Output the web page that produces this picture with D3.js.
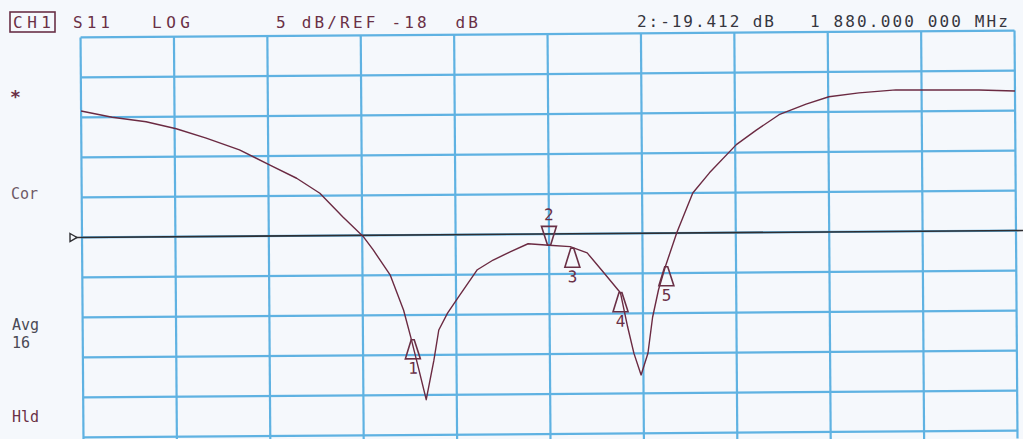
<!DOCTYPE html>
<html>
<head>
<meta charset="utf-8">
<script src="https://cdn.jsdelivr.net/npm/d3@7.9.0/dist/d3.min.js"></script>
<style>
  html, body { margin: 0; padding: 0; background: #f5f8fc; }
  svg { display: block; }
</style>
</head>
<body>
<svg id="chart" width="1023" height="439"></svg>
<script>
// S11 sweep, 5 dB/div, ref -18 dB
const freqMHz = [1680, 1693.3, 1707.8, 1720.7, 1733.5, 1747.7, 1760.5, 1772.1, 1782, 1791.8,
  1800.3, 1804.6, 1811.9, 1817.5, 1820.5, 1823.9, 1826.9, 1830.3, 1832.5, 1836.3,
  1841, 1849.2, 1856, 1863.3, 1871, 1880, 1889, 1896.3, 1903.1, 1910.4,
  1913.4, 1916, 1919, 1922, 1924.1, 1926.7, 1929.7, 1934.8, 1941.7, 1948.9,
  1960.5, 1969.1, 1978.9, 1990.5, 2000.3, 2013.2, 2029, 2064.6, 2080];
const s11dB = [-2.2, -3.0, -3.6, -4.5, -5.7, -7.2, -9.1, -10.8, -12.7, -15.7,
  -18.1, -19.8, -23.0, -27.4, -30.8, -34.9, -38.6, -33.7, -29.9, -27.8,
  -25.8, -22.4, -21.2, -20.2, -19.2, -19.41, -19.6, -20.4, -22.8, -25.4,
  -29.7, -33.0, -35.7, -33.0, -28.5, -25.1, -22.2, -17.9, -13.0, -10.5,
  -7.0, -5.2, -3.3, -2.0, -1.1, -0.65, -0.3, -0.4, -0.55];

const markerNum  = ["1", "2", "3", "4", "5"];
const markerFreq = [1821.3, 1880, 1889.9, 1910.4, 1930.1];
const markerDb   = [-31.1, -19.412, -19.8, -25.4, -22.2];
const markerUp   = [true, false, true, true, true];

const refDb = -18;
const dbPerDiv = 5;
const startMHz = 1680, stopMHz = 2080;

const headerLeft  = ["CH1", "S11", "LOG", "5 dB/REF -18  dB"];
const headerRight = ["2:-19.412 dB", "1 880.000 000 MHz"];
const sideLabels  = ["*", "Cor", "Avg", "16", "Hld"];

const ink = "#6a3046";
const gridColor = "#5fb2e2";
const mono = "'DejaVu Sans Mono', 'Liberation Mono', monospace";

const svg = d3.select("#chart");
const plotLeft = 82, plotRight = 1016, plotTop = 34, plotBottom = 434;

const x = d3.scaleLinear().domain([startMHz, stopMHz]).range([plotLeft, plotRight]);
const y = d3.scaleLinear()
  .domain([refDb - 5 * dbPerDiv, refDb + 5 * dbPerDiv])
  .range([plotBottom, plotTop]);

// header
const hdr = svg.append("g").attr("font-family", mono).attr("font-size", 16).attr("fill", ink);
const leftPos = [[13, 38], [73, 37], [152, 38], [276, 202]];
headerLeft.forEach((t, i) => {
  hdr.append("text")
    .attr("x", leftPos[i][0]).attr("y", 28)
    .attr("textLength", leftPos[i][1]).attr("lengthAdjust", "spacing")
    .attr("xml:space", "preserve")
    .text(t);
});
hdr.append("rect").attr("x", 10).attr("y", 12).attr("width", 45).attr("height", 20)
  .attr("fill", "none").attr("stroke", ink).attr("stroke-width", 1.6);
const rightPos = [[637, 137], [810, 198]];
headerRight.forEach((t, i) => {
  hdr.append("text")
    .attr("x", rightPos[i][0]).attr("y", 27)
    .attr("textLength", rightPos[i][1]).attr("lengthAdjust", "spacing")
    .attr("fill", "#36363f")
    .text(t);
});

// side annotations
const sidePos = [[10, 103, 18], [11, 199, 15], [12, 330, 15], [12, 348, 15], [12, 422, 15]];
const sideFill = [ink, "#6e5a66", "#4a4a55", "#4a4a55", ink];
sideLabels.forEach((t, i) => {
  svg.append("text")
    .attr("x", sidePos[i][0]).attr("y", sidePos[i][1])
    .attr("font-family", mono).attr("font-size", sidePos[i][2])
    .attr("font-weight", i === 0 ? "bold" : "normal")
    .attr("fill", sideFill[i])
    .text(t);
});

// plot area, slightly rotated like the scanned print
const g = svg.append("g").attr("transform", `rotate(-0.42, ${x(1880)}, ${y(refDb)})`);

const xTicks = d3.range(startMHz, stopMHz + 1, (stopMHz - startMHz) / 10);
const yTicks = d3.range(refDb - 25, refDb + 26, dbPerDiv);

g.selectAll(".vgrid").data(xTicks).enter().append("line")
  .attr("class", "vgrid")
  .attr("x1", d => x(d)).attr("x2", d => x(d))
  .attr("y1", plotTop).attr("y2", plotBottom + 8)
  .attr("stroke", gridColor).attr("stroke-width", 2.2);

g.selectAll(".hgrid").data(yTicks).enter().append("line")
  .attr("class", "hgrid")
  .attr("x1", plotLeft).attr("x2", plotRight)
  .attr("y1", d => y(d)).attr("y2", d => y(d))
  .attr("stroke", gridColor).attr("stroke-width", 2.2);

// reference line with its pointer
g.append("line")
  .attr("x1", plotLeft - 6).attr("x2", 1030)
  .attr("y1", y(refDb)).attr("y2", y(refDb))
  .attr("stroke", "#2f2f33").attr("stroke-width", 1.6);
g.append("path")
  .attr("d", `M${plotLeft - 12},${y(refDb) - 4} L${plotLeft - 5},${y(refDb)} L${plotLeft - 12},${y(refDb) + 4} Z`)
  .attr("fill", "#f5f8fc").attr("stroke", "#2f2f33").attr("stroke-width", 1.4);

// trace
const line = d3.line().x((d, i) => x(freqMHz[i])).y(d => y(d));
g.append("path")
  .datum(s11dB)
  .attr("d", line)
  .attr("fill", "none")
  .attr("stroke", "#6b2a42")
  .attr("stroke-width", 1.4)
  .attr("stroke-linejoin", "round");

// markers
markerNum.forEach((m, i) => {
  const mx = x(markerFreq[i]);
  const my = y(markerDb[i]);
  const h = 19, wTop = 1.5, wBot = 7.5;
  let d, ty;
  if (markerUp[i]) {
    d = `M${mx - wTop},${my} L${mx + wTop},${my} L${mx + wBot},${my + h} L${mx - wBot},${my + h} Z`;
    ty = my + h + 15;
  } else {
    d = `M${mx - wTop},${my} L${mx + wTop},${my} L${mx + wBot},${my - h} L${mx - wBot},${my - h} Z`;
    ty = my - h - 6;
  }
  g.append("path").attr("d", d)
    .attr("fill", "none").attr("stroke", ink).attr("stroke-width", 1.6);
  g.append("text")
    .attr("x", mx).attr("y", ty)
    .attr("text-anchor", "middle")
    .attr("font-family", mono).attr("font-size", 16)
    .attr("fill", ink)
    .text(m);
});
</script>
</body>
</html>
